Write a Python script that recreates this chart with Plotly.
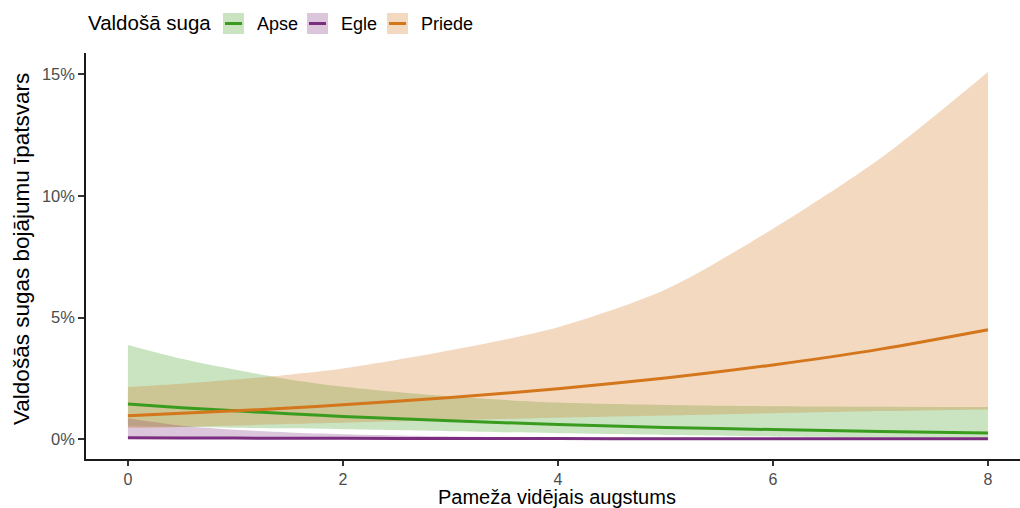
import plotly.graph_objects as go

# ---- data (percent values) ----
x_vals = [0, 0.5, 1, 1.5, 2, 3, 4, 5, 6, 7, 8]

species = ["Apse", "Egle", "Priede"]

apse_fit   = [1.44, 1.29, 1.16, 1.04, 0.93, 0.75, 0.60, 0.48, 0.39, 0.31, 0.25]
apse_upper = [3.87, 3.30, 2.85, 2.45, 2.15, 1.75, 1.50, 1.40, 1.35, 1.33, 1.32]
apse_lower = [0.53, 0.50, 0.47, 0.44, 0.40, 0.32, 0.24, 0.17, 0.11, 0.07, 0.05]

egle_fit   = [0.05, 0.045, 0.04, 0.035, 0.03, 0.025, 0.02, 0.015, 0.01, 0.01, 0.01]
egle_upper = [0.86, 0.55, 0.38, 0.27, 0.20, 0.11, 0.07, 0.05, 0.04, 0.035, 0.03]
egle_lower = [0.0, 0.0, 0.0, 0.0, 0.0, 0.0, 0.0, 0.0, 0.0, 0.0, 0.0]

priede_fit   = [0.96, 1.06, 1.16, 1.28, 1.41, 1.71, 2.07, 2.51, 3.05, 3.70, 4.50]
priede_upper = [2.14, 2.28, 2.45, 2.65, 2.90, 3.65, 4.60, 6.15, 8.65, 11.55, 15.10]
priede_lower = [0.45, 0.50, 0.56, 0.62, 0.67, 0.78, 0.88, 0.97, 1.06, 1.15, 1.22]

x_ticks = [0, 2, 4, 6, 8]
y_ticks = [0, 5, 10, 15]

legend_title = "Valdošā suga"
x_title = "Pameža vidējais augstums"
y_title = "Valdošās sugas bojājumu īpatsvars"

# ---- styles ----
line_colors = {"Apse": "#3a9c1e", "Egle": "#7b2d7f", "Priede": "#d4761c"}
fill_colors = {"Apse": "rgba(58,156,30,0.27)",
               "Egle": "rgba(123,45,127,0.27)",
               "Priede": "rgba(212,118,28,0.28)"}

series = {
    "Apse": (apse_fit, apse_lower, apse_upper),
    "Egle": (egle_fit, egle_lower, egle_upper),
    "Priede": (priede_fit, priede_lower, priede_upper),
}

FONT = "Liberation Sans, Arial, Helvetica, sans-serif"

fig = go.Figure()

# ribbons
for sp in species:
    fit, lo, hi = series[sp]
    fig.add_trace(go.Scatter(x=x_vals, y=lo, mode="lines",
                             line=dict(width=0, shape="spline", smoothing=0.8),
                             showlegend=False, hoverinfo="skip"))
    fig.add_trace(go.Scatter(x=x_vals, y=hi, mode="lines", fill="tonexty",
                             fillcolor=fill_colors[sp],
                             line=dict(width=0, shape="spline", smoothing=0.8),
                             showlegend=False, hoverinfo="skip"))

# fitted lines
for sp in species:
    fit, lo, hi = series[sp]
    fig.add_trace(go.Scatter(x=x_vals, y=fit, mode="lines", name=sp,
                             line=dict(color=line_colors[sp], width=3,
                                       shape="spline", smoothing=0.8),
                             showlegend=False))

# ---- layout geometry ----
W, H = 1020, 508
L, R, T, B = 86, 0, 53, 49
pw, ph = W - L - R, H - T - B

def px_to_paper_x(px):
    return (px - L) / pw

def px_to_paper_y(py):
    return (H - B - py) / ph

# manual legend (ggplot-style keys)
shapes = []
annotations = []
annotations.append(dict(text=legend_title, xref="paper", yref="paper",
                        x=px_to_paper_x(86), y=px_to_paper_y(23),
                        xanchor="left", yanchor="middle", showarrow=False,
                        font=dict(family=FONT, size=20.5, color="#000000")))
key_x = [223, 307, 387]
for sp, kx in zip(species, key_x):
    shapes.append(dict(type="rect", xref="paper", yref="paper",
                       x0=px_to_paper_x(kx), x1=px_to_paper_x(kx + 21),
                       y0=px_to_paper_y(34), y1=px_to_paper_y(13),
                       fillcolor=fill_colors[sp], line=dict(width=0), layer="above"))
    shapes.append(dict(type="line", xref="paper", yref="paper",
                       x0=px_to_paper_x(kx + 2), x1=px_to_paper_x(kx + 19),
                       y0=px_to_paper_y(23.5), y1=px_to_paper_y(23.5),
                       line=dict(color=line_colors[sp], width=3), layer="above"))
    annotations.append(dict(text=sp, xref="paper", yref="paper",
                            x=px_to_paper_x(kx + 32), y=px_to_paper_y(24),
                            xanchor="left", yanchor="middle", showarrow=False,
                            font=dict(family=FONT, size=18, color="#000000")))

# axis titles
annotations.append(dict(text=x_title, xref="paper", yref="paper",
                        x=px_to_paper_x(557), y=px_to_paper_y(496.5),
                        xanchor="center", yanchor="middle", showarrow=False,
                        font=dict(family=FONT, size=20, color="#000000")))
annotations.append(dict(text=y_title, xref="paper", yref="paper",
                        x=px_to_paper_x(21), y=px_to_paper_y(249),
                        xanchor="center", yanchor="middle", showarrow=False,
                        textangle=-90,
                        font=dict(family=FONT, size=22.5, color="#000000")))

fig.update_layout(
    width=W, height=H,
    margin=dict(l=L, r=R, t=T, b=B, pad=0),
    plot_bgcolor="white", paper_bgcolor="white",
    showlegend=False,
    shapes=shapes, annotations=annotations,
    font=dict(family=FONT),
)

fig.update_xaxes(range=[-0.39, 8.298], tickvals=x_ticks,
                 ticktext=[str(t) for t in x_ticks],
                 showgrid=False, zeroline=False,
                 showline=True, linecolor="#1a1a1a", linewidth=1.5,
                 ticks="outside", ticklen=5, tickwidth=1.5, tickcolor="#333333",
                 tickfont=dict(family=FONT, size=16, color="#4d4d4d"))
fig.update_yaxes(range=[-0.82, 15.88], tickvals=y_ticks,
                 ticktext=[f"{t}%" for t in y_ticks],
                 showgrid=False, zeroline=False,
                 showline=True, linecolor="#1a1a1a", linewidth=1.5,
                 ticks="outside", ticklen=6, tickwidth=1.5, tickcolor="#333333",
                 tickfont=dict(family=FONT, size=16.5, color="#4d4d4d"))

fig.write_html("out.html")
